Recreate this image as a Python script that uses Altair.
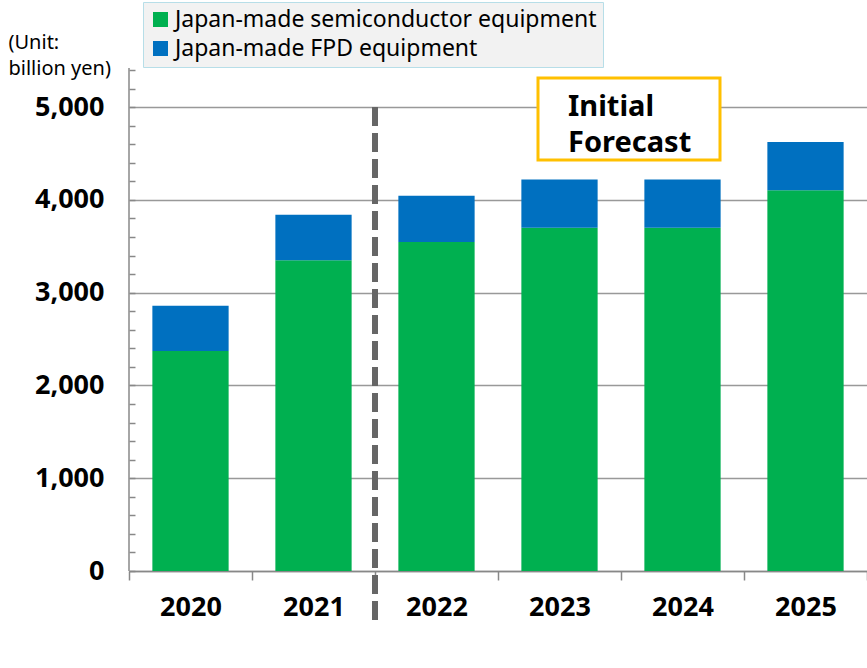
import altair as alt
import pandas as pd

years = ["2020", "2021", "2022", "2023", "2024", "2025"]
semi = [2370, 3350, 3545, 3700, 3700, 4105]
fpd = [490, 490, 500, 520, 520, 520]
series = ["Japan-made semiconductor equipment", "Japan-made FPD equipment"]
colors = ["#00B050", "#0070C0"]
y_tick_values = list(range(0, 5401, 200))
forecast_lines = ["Initial", "Forecast"]
unit_lines = ["(Unit:", "billion yen)"]
split_year = "2022"
split_top = 5000

rows = []
for i, yr in enumerate(years):
    rows.append({"year": yr, "series": series[0], "value": semi[i], "order": 0})
    rows.append({"year": yr, "series": series[1], "value": fpd[i], "order": 1})
df = pd.DataFrame(rows)

W, H = 738, 501
FONT = "Noto Sans"
AX = "#888888"

xscale = alt.Scale(domain=years, paddingInner=0, paddingOuter=0)
yscale = alt.Scale(domain=[0, 5400], nice=False, zero=True)

xaxis = alt.Axis(
    title=None, labelAngle=0, tickBand="extent",
    domainColor=AX, domainWidth=1.5, tickColor=AX, tickWidth=1.5, tickSize=9,
    labelFont=FONT, labelFontSize=27, labelFontWeight="bold", labelColor="black",
    labelPadding=14, grid=False,
)
yaxis = alt.Axis(
    values=y_tick_values,
    labelExpr="datum.value % 1000 === 0 ? format(datum.value, ',') : ''",
    grid=True, gridColor="#999999", gridWidth=1.5,
    gridOpacity={"condition": {"test": "datum.value % 1000 === 0", "value": 1}, "value": 0},
    tickSize=6, tickColor=AX, tickWidth=1.5, offset=-6, domain=False,
    labelFont=FONT, labelFontSize=27, labelFontWeight="bold", labelColor="black",
    labelPadding=25, labelBaseline="middle",
    title=unit_lines, titleAngle=0, titleAlign="left", titleBaseline="top",
    titleX=-127, titleY=-38, titleFont=FONT, titleFontSize=20,
    titleFontWeight="normal", titleColor="black", titleLineHeight=26,
)

bars = alt.Chart(df).mark_bar(width=alt.RelativeBandSize(0.62)).encode(
    x=alt.X("year:N", scale=xscale, sort=years, axis=xaxis),
    y=alt.Y("value:Q", scale=yscale, stack="zero", axis=yaxis),
    color=alt.Color(
        "series:N", scale=alt.Scale(domain=series, range=colors),
        legend=alt.Legend(
            title=None, orient="none", legendX=14, legendY=-68,
            symbolType="square", symbolSize=225, symbolStrokeWidth=0, symbolOpacity=1,
            labelFont=FONT, labelFontSize=23, labelColor="black", labelOffset=3,
            labelLimit=700,
            fillColor="#F2F2F2", strokeColor="#B7DEE8", padding=6, rowPadding=5,
        ),
    ),
    order=alt.Order("order:Q", sort="ascending"),
)

axis_line = alt.Chart(pd.DataFrame({"a": [0]})).mark_rule(color=AX, strokeWidth=1.5).encode(
    x=alt.value(0), y=alt.value(-2), y2=alt.value(H)
)

split_df = pd.DataFrame({"year": [split_year], "value": [split_top]})
split = alt.Chart(split_df).mark_rule(color="#666666", strokeWidth=6, strokeDash=[19, 7]).encode(
    x=alt.X("year:N", scale=xscale, sort=years, bandPosition=0, axis=xaxis),
    y=alt.Y("value:Q", scale=yscale, axis=yaxis),
    y2=alt.value(552),
)

box = alt.Chart(pd.DataFrame({"a": [0]})).mark_rect(
    fill="white", stroke="#FFC000", strokeWidth=3
).encode(x=alt.value(409), x2=alt.value(591), y=alt.value(8), y2=alt.value(90))

box_text = alt.Chart(pd.DataFrame({"a": [0]})).mark_text(
    align="left", baseline="alphabetic", font=FONT, fontSize=29, fontWeight="bold",
    color="black", lineHeight=36,
).encode(x=alt.value(439), y=alt.value(46), text=alt.value(forecast_lines))

chart = alt.layer(bars, split, axis_line, box, box_text).properties(
    width=W, height=H,
    autosize=alt.AutoSizeParams(type="none"),
    padding={"left": 129, "top": 70, "right": 0, "bottom": 97},
    background="white",
).configure_view(stroke=None)

chart.save("out.html", embed_options={"renderer": "svg", "actions": False})
